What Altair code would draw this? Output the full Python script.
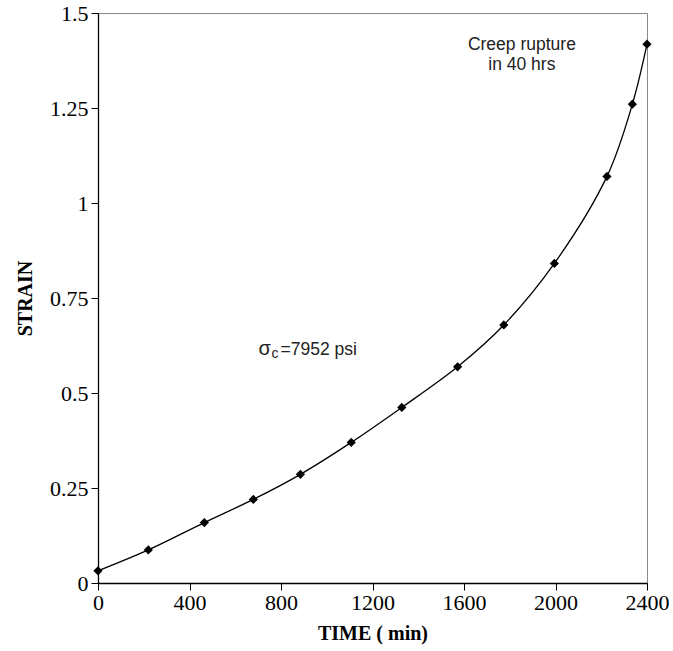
import altair as alt
import pandas as pd

# Data
time_min = [0, 220, 465, 679, 885, 1107, 1328, 1572, 1774, 1995, 2225, 2336, 2400]
strain = [0.032, 0.087, 0.159, 0.220, 0.286, 0.370, 0.462, 0.569, 0.679, 0.841, 1.070, 1.260, 1.418]

x_ticks = [0, 400, 800, 1200, 1600, 2000, 2400]
y_ticks = [0, 0.25, 0.5, 0.75, 1.0, 1.25, 1.5]

# Annotation anchors (data coordinates)
ann_rupture = {"t": 1853, "s": 1.402, "label": ["Creep rupture", "in 40 hrs"]}
ann_sigma = {"t": 702, "s": 0.599}

df = pd.DataFrame({"time": time_min, "strain": strain})

x_enc = alt.X("time:Q", scale=alt.Scale(domain=[0, 2400], nice=False),
              axis=alt.Axis(values=x_ticks, format="d", title="TIME ( min)", labelFlush=False))
y_enc = alt.Y("strain:Q", scale=alt.Scale(domain=[0, 1.5], nice=False),
              axis=alt.Axis(values=y_ticks, labelExpr="'' + datum.value", title="STRAIN",
                            labelFlush=False))

base = alt.Chart(df).encode(x=x_enc, y=y_enc)

line = base.mark_line(color="black", strokeWidth=1.3, interpolate="catmull-rom")
pts = base.mark_point(shape="diamond", filled=True, color="black", size=85, opacity=1)

rup_df = pd.DataFrame([{"time": ann_rupture["t"], "strain": ann_rupture["s"],
                        "label": ann_rupture["label"]}])
rupture = alt.Chart(rup_df).mark_text(
    font="Liberation Sans", fontSize=17.5, align="center", baseline="alphabetic",
    lineHeight=20, color="#222"
).encode(x="time:Q", y="strain:Q", text="label")

sig_df = pd.DataFrame([{"time": ann_sigma["t"], "strain": ann_sigma["s"]}])
sig_base = alt.Chart(sig_df).encode(x="time:Q", y="strain:Q")
sigma = sig_base.mark_text(font="Liberation Sans", fontSize=20, align="left",
                           baseline="alphabetic", color="#222").encode(text=alt.value("σ"))
sub_c = sig_base.mark_text(font="Liberation Sans", fontSize=14, align="left",
                           baseline="alphabetic", dx=13, dy=3, color="#222").encode(text=alt.value("c"))
rest = sig_base.mark_text(font="Liberation Sans", fontSize=17.5, align="left",
                          baseline="alphabetic", dx=22, color="#222").encode(text=alt.value("=7952 psi"))

chart = alt.layer(line, pts, rupture, sigma, sub_c, rest).properties(
    width=549, height=570,
    autosize=alt.AutoSizeParams(type="none"),
    padding={"left": 98, "top": 13, "right": 26, "bottom": 68},
).configure_view(
    stroke="#888", strokeWidth=1
).configure_axis(
    grid=False,
    domainColor="black",
    domainWidth=1.3,
    tickColor="black",
    tickSize=7,
    labelFont="Liberation Serif",
    labelFontSize=22,
    labelColor="black",
    titleFont="Liberation Serif",
    titleFontSize=20,
    titleFontWeight="bold",
    titleColor="black",
).configure_axisY(
    labelPadding=3, titlePadding=14
).configure_axisX(
    labelPadding=2, titlePadding=10
)

chart.save("out.html", embed_options={"renderer": "svg", "actions": False})
